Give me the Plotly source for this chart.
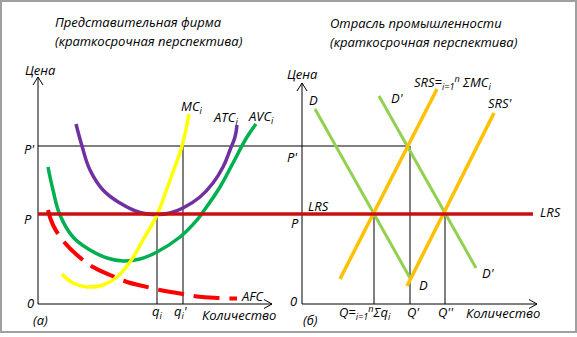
import plotly.graph_objects as go

# ---------------- data (price/quantity units) ----------------
P = 9.0
P_prime = 15.8
q_i = 11.9
q_i_prime = 14.5
Q = 7.2
Q_prime = 10.8
Q_dprime = 14.3

mc_x = [2.4, 3.5, 4.9, 6.5, 7.9, 9.2, 10.5, 11.9, 12.7, 13.5, 14.4, 15.1]
mc_y = [3.0, 2.1, 1.7, 1.9, 2.7, 4.2, 6.4, 8.9, 11.0, 13.2, 15.8, 19.0]

atc_x = [3.8, 4.4, 5.2, 6.5, 8.2, 10.2, 11.9, 13.2, 14.5, 16.2, 17.5, 18.5, 19.2, 19.7, 19.9]
atc_y = [18.0, 15.8, 13.4, 11.4, 10.1, 9.15, 8.95, 9.1, 9.6, 10.7, 12.1, 13.7, 15.4, 16.7, 17.9]

avc_x = [1.0, 1.5, 2.2, 3.5, 5.2, 6.9, 8.5, 10.2, 11.9, 14.2, 15.9, 16.5, 18.2, 19.5, 20.9, 21.8]
avc_y = [13.7, 11.4, 8.9, 6.7, 5.4, 4.6, 4.3, 4.5, 5.2, 6.7, 8.4, 9.2, 11.7, 14.1, 16.7, 18.0]

afc_x = [1.0, 1.5, 2.7, 3.9, 5.5, 7.2, 8.9, 10.5, 12.2, 13.9, 15.9, 17.9, 19.9]
afc_y = [9.4, 7.9, 6.1, 4.9, 3.7, 2.9, 2.2, 1.8, 1.4, 1.1, 0.75, 0.6, 0.55]

d_x = [1.3, 10.8]
d_y = [19.5, 2.6]
d2_x = [7.7, 17.4]
d2_y = [20.8, 3.6]
srs_x = [3.8, 13.5]
srs_y = [2.5, 21.5]
srs2_x = [10.5, 19.2]
srs2_y = [1.8, 19.1]

LRS_END = 23.1
AX_L_X, AX_L_Y = 23.4, 22.7
AX_R_X, AX_R_Y = 23.5, 22.1

# ---------------- styles ----------------
FONT = "Open Sans"
BLACK = "#000000"
fig = go.Figure()

def line(x, y, xa, color, width, dash=None, shape="linear"):
    fig.add_trace(go.Scatter(x=x, y=y, xaxis=xa, yaxis="y", mode="lines",
                             line=dict(color=color, width=width, dash=dash, shape=shape, smoothing=1.2),
                             hoverinfo="skip", showlegend=False))

XL_MIN, XL_MAX = -3.8, 25.2
XR_MIN, XR_MAX = -1.2, 27.5

# ----- left panel -----
line([0, 0], [0, AX_L_Y], "x", BLACK, 1)
line([0, AX_L_X], [0, 0], "x", BLACK, 1)
line([-0.5, 0, 0.5], [AX_L_Y - 0.8, AX_L_Y, AX_L_Y - 0.8], "x", BLACK, 1)
line([AX_L_X - 0.8, AX_L_X, AX_L_X - 0.8], [0.45, 0, -0.45], "x", BLACK, 1)
line([0, XL_MAX], [P_prime, P_prime], "x", BLACK, 1)
line([q_i, q_i], [0, P], "x", BLACK, 1)
line([q_i_prime, q_i_prime], [0, P_prime], "x", BLACK, 1)
line(afc_x, afc_y, "x", "#ff0000", 4, dash="26px,10px", shape="spline")
line(avc_x, avc_y, "x", "#00b050", 3.5, shape="spline")
line(atc_x, atc_y, "x", "#7030a0", 3.5, shape="spline")
line(mc_x, mc_y, "x", "#ffff00", 3.5, shape="spline")
line([0, XL_MAX], [P, P], "x", "#c81010", 3.5)

# ----- right panel -----
line([0, 0], [0, AX_R_Y], "x2", BLACK, 1)
line([0, AX_R_X], [0, 0], "x2", BLACK, 1)
line([-0.5, 0, 0.5], [AX_R_Y - 0.8, AX_R_Y, AX_R_Y - 0.8], "x2", BLACK, 1)
line([AX_R_X - 0.8, AX_R_X, AX_R_X - 0.8], [0.45, 0, -0.45], "x2", BLACK, 1)
line([XR_MIN, Q_prime], [P_prime, P_prime], "x2", BLACK, 1)
line([Q, Q], [0, P], "x2", BLACK, 1)
line([Q_prime, Q_prime], [0, P_prime], "x2", BLACK, 1)
line([Q_dprime, Q_dprime], [0, P], "x2", BLACK, 1)
line(d_x, d_y, "x2", "#92d050", 3)
line(d2_x, d2_y, "x2", "#92d050", 3)
line(srs_x, srs_y, "x2", "#ffc000", 3.5)
line(srs2_x, srs2_y, "x2", "#ffc000", 3.5)
line([XR_MIN, LRS_END], [P, P], "x2", "#c81010", 3.5)

# ---------------- text ----------------
ann = []
def txt(t, x, y, xref, xanchor="center", yanchor="middle", size=13):
    ann.append(dict(text=t, x=x, y=y, xref=xref, yref="y" if xref != "paper" else "paper",
                    xanchor=xanchor, yanchor=yanchor, showarrow=False,
                    font=dict(family=FONT, size=size, color=BLACK, style="italic")))

txt("Представительная фирма", 53 / 577, 1 - 22 / 337, "paper", xanchor="left")
txt("(краткосрочная перспектива)", 53 / 577, 1 - 41 / 337, "paper", xanchor="left")
txt("Отрасль промышленности", 328 / 577, 1 - 23 / 337, "paper", xanchor="left")
txt("(краткосрочная перспектива)", 328 / 577, 1 - 42 / 337, "paper", xanchor="left")

txt("Цена", 0.25, 23.4, "x")
txt("P'", -0.9, 15.5, "x")
txt("P", -1.0, 8.5, "x")
txt("0", -0.8, 0.1, "x")
txt("(а)", 0.2, -1.6, "x")
txt("q<sub>i</sub>", q_i, -0.8, "x")
txt("q<sub>i</sub>'", 14.3, -0.8, "x")
txt("Количество", 20.1, -1.1, "x")
txt("AFC", 21.5, 0.8, "x")
txt("MC<sub>i</sub>", 15.4, 19.7, "x")
txt("ATC<sub>i</sub>", 18.7, 18.6, "x")
txt("AVC<sub>i</sub>", 22.3, 18.7, "x")

txt("Цена", 0.0, 23.0, "x2")
txt("D", 1.1, 20.4, "x2")
txt("D'", 9.5, 20.6, "x2")
txt("SRS=<sub>i=1</sub><sup>n</sup> ΣMC<sub>i</sub>", 11.0, 22.2, "x2", xanchor="left")
txt("SRS'", 19.8, 20.1, "x2")
txt("P'", -1.0, 14.7, "x2")
txt("LRS", 1.6, 9.8, "x2")
txt("P", -0.7, 8.1, "x2")
txt("LRS", 24.8, 9.2, "x2")
txt("D", 12.1, 1.9, "x2")
txt("D'", 18.6, 3.1, "x2")
txt("0", -0.9, 0.3, "x2")
txt("(б)", 0.8, -1.6, "x2")
txt("Q=<sub>i=1</sub><sup>n</sup>Σq<sub>i</sub>", 6.3, -0.8, "x2")
txt("Q'", 11.1, -0.8, "x2")
txt("Q''", 14.4, -0.8, "x2")
txt("Количество", 20.1, -0.9, "x2")

ax = dict(visible=False, fixedrange=True)
fig.update_layout(
    width=577, height=337, margin=dict(l=0, r=0, t=0, b=0),
    paper_bgcolor="white", plot_bgcolor="white",
    xaxis=dict(domain=[0, 290 / 577], range=[XL_MIN, XL_MAX], **ax),
    xaxis2=dict(domain=[290 / 577, 1], range=[XR_MIN, XR_MAX], anchor="y", **ax),
    yaxis=dict(domain=[0, 1], range=[-3.3, 30.4], **ax),
    annotations=ann,
    shapes=[dict(type="rect", xref="paper", yref="paper",
                 x0=1 / 577, x1=576 / 577, y0=1 - 332 / 337, y1=1 - 1 / 337,
                 line=dict(color="#a0a0a0", width=2))],
)
fig.write_html("out.html")
